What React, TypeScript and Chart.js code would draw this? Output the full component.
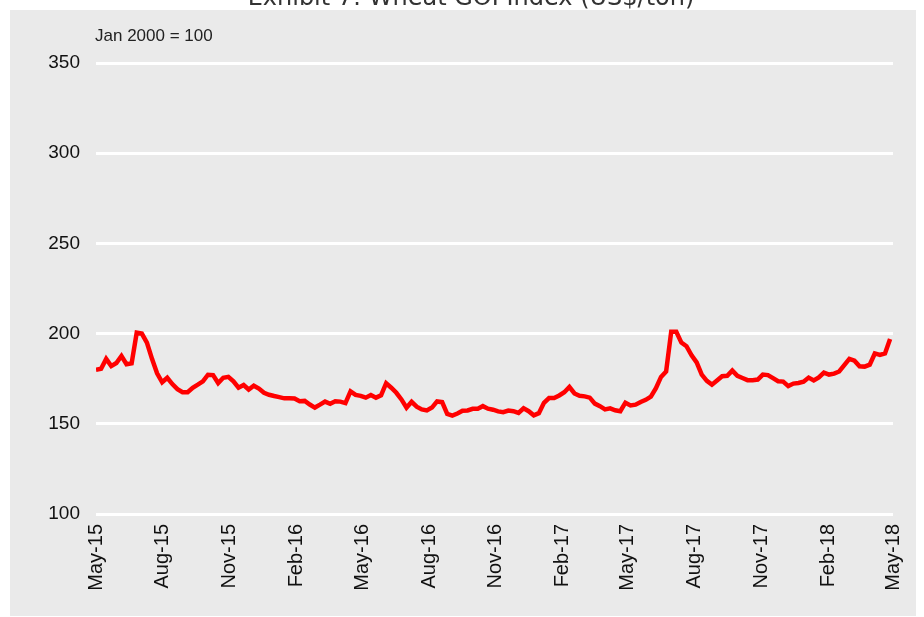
import React, { useEffect, useRef } from "react";
import { Chart, registerables } from "chart.js";

Chart.register(...registerables);

const chartTitle = "Exhibit 7: Wheat GOI Index (US$/ton)";
const baseNote = "Jan 2000 = 100";
const seriesStart = "2015-05-01";
const stepDays = 7;

// Weekly readings of the Wheat GOI index (Jan 2000 = 100)
const wheatIndex = [
  180, 180.5, 186, 182, 183.7, 187.6, 183, 183.5, 200.5, 200, 195, 186, 178,
  173, 175.5, 172, 169.2, 167.5, 167.5, 170, 171.7, 173.5, 177.2, 177, 172.6, 175.5,
  176, 173.5, 170, 171.5, 169, 171.1, 169.5, 167.2, 166.1, 165.4, 164.8, 164.1, 164.2,
  164, 162.5, 162.7, 160.7, 159, 160.6, 162.3, 161.1, 162.5, 162.3, 161.5, 168, 166, 165.5,
  164.5, 166, 164.5, 165.8, 172.5, 170, 167.2, 163.5, 158.9, 162.2, 159.5, 158, 157.4,
  159, 162.4, 162, 155.5, 154.5, 155.7, 157.2, 157.4, 158.3, 158.4, 159.8, 158.4, 157.8, 156.9,
  156.4, 157.3, 157, 156, 158.6, 157, 154.7, 155.9, 161.6, 164.3, 164.3, 165.7, 167.5,
  170.4, 166.8, 165.5, 165.2, 164.5, 161.2, 159.8, 158, 158.6, 157.5, 157, 161.7, 160.2, 160.6,
  162.1, 163.3, 165.1, 169.8, 176, 179, 201, 201, 195, 193, 188, 184, 177.3,
  173.8, 171.7, 174, 176.4, 176.6, 179.5, 176.6, 175.4, 174.2, 174.1, 174.5, 177.3, 177, 175.3,
  173.6, 173.4, 170.9, 172.3, 172.6, 173.3, 175.6, 174, 175.7, 178.4, 177.3, 177.8,
  179, 182.5, 186, 185, 181.9, 181.7, 182.8, 189, 188.2, 189, 197,
];

const tickLabels = [
  "May-15", "Aug-15", "Nov-15", "Feb-16", "May-16", "Aug-16", "Nov-16",
  "Feb-17", "May-17", "Aug-17", "Nov-17", "Feb-18", "May-18",
];
const tickDates = [
  "2015-05-01", "2015-08-01", "2015-11-01", "2016-02-01", "2016-05-01", "2016-08-01", "2016-11-01",
  "2017-02-01", "2017-05-01", "2017-08-01", "2017-11-01", "2018-02-01", "2018-05-01",
];
const yTicks = [100, 150, 200, 250, 300, 350];

const DAY = 86400000;
const dayOf = (s: string) => Math.round((Date.parse(s) - Date.parse(seriesStart)) / DAY);

export default function App() {
  const ref = useRef<HTMLCanvasElement | null>(null);

  useEffect(() => {
    if (!ref.current) return;
    const tickDays = tickDates.map(dayOf);
    const points = wheatIndex.map((v, i) => ({ x: i * stepDays, y: v }));
    const chart = new Chart(ref.current, {
      type: "line",
      data: {
        datasets: [
          {
            label: "Wheat GOI Index",
            data: points,
            borderColor: "#ff0000",
            borderWidth: 4.5,
            pointRadius: 0,
            tension: 0,
            fill: false,
          },
        ],
      },
      options: {
        animation: false,
        responsive: false,
        maintainAspectRatio: false,
        layout: { padding: { top: 53, right: 23, bottom: 0, left: 0 } },
        plugins: { legend: { display: false }, tooltip: { enabled: false }, title: { display: false } },
        scales: {
          x: {
            type: "linear",
            min: tickDays[0],
            max: tickDays[tickDays.length - 1],
            afterBuildTicks: (scale: any) => {
              scale.ticks = tickDays.map((d) => ({ value: d }));
            },
            afterFit: (scale: any) => {
              scale.height = 102;
              scale.paddingRight = 0;
              scale.paddingLeft = 0;
            },
            grid: { display: false, drawTicks: false },
            border: { display: false },
            ticks: {
              autoSkip: false,
              minRotation: 90,
              maxRotation: 90,
              padding: 10,
              color: "#111",
              font: { family: "'Liberation Sans', Arial, sans-serif", size: 20 },
              callback: (v: any) => {
                const idx = tickDays.indexOf(Number(v));
                return idx >= 0 ? tickLabels[idx] : "";
              },
            },
          },
          y: {
            min: yTicks[0],
            max: yTicks[yTicks.length - 1],
            afterBuildTicks: (scale: any) => {
              scale.ticks = yTicks.map((v) => ({ value: v }));
            },
            afterFit: (scale: any) => {
              scale.width = 86;
            },
            grid: { color: "#ffffff", lineWidth: 3, drawTicks: false },
            border: { display: false },
            ticks: {
              padding: 16,
              color: "#111",
              font: { family: "'Liberation Sans', Arial, sans-serif", size: 19 },
            },
          },
        },
      },
    });
    return () => chart.destroy();
  }, []);

  return (
    <div style={{ position: "fixed", left: 0, top: 0, width: 924, height: 617, background: "#fff" }}>
      <div
        style={{
          position: "absolute",
          left: 11,
          top: 0,
          width: 920,
          height: 9,
          overflow: "hidden",
          textAlign: "center",
          fontFamily: "'DejaVu Sans', sans-serif",
          fontSize: 24,
          color: "#333",
          lineHeight: "26px",
          whiteSpace: "nowrap",
        }}
      >
        <div style={{ marginTop: -16 }}>{chartTitle}</div>
      </div>
      <div
        style={{
          position: "absolute",
          left: 10,
          top: 10,
          width: 906,
          height: 606,
          background: "#eaeaea",
        }}
      >
        <div
          style={{
            position: "absolute",
            left: 85,
            top: 16,
            fontFamily: "'Liberation Sans', Arial, sans-serif",
            fontSize: 17,
            color: "#222",
            lineHeight: "20px",
          }}
        >
          {baseNote}
        </div>
        <canvas ref={ref} width={906} height={606} style={{ display: "block" }} />
      </div>
    </div>
  );
}
